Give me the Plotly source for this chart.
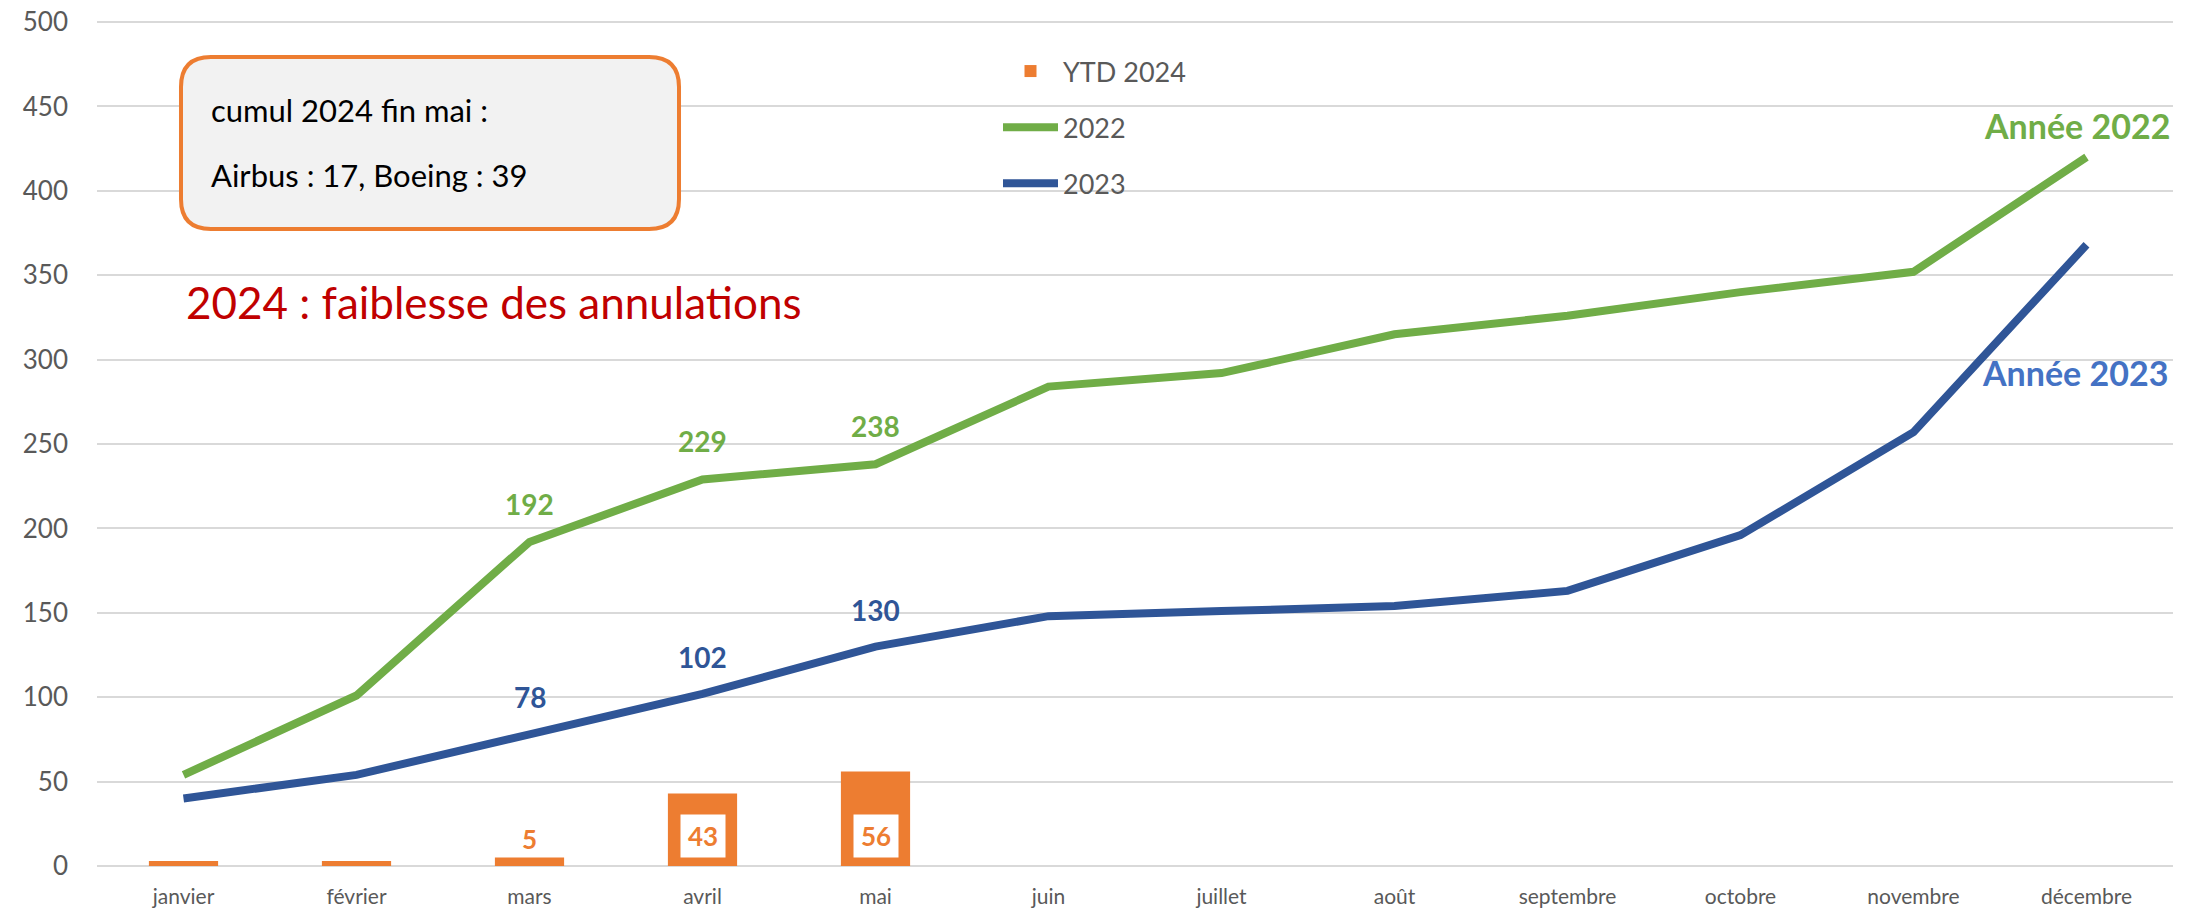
import plotly.graph_objects as go

# ---------------- data ----------------
months = ["janvier", "février", "mars", "avril", "mai", "juin", "juillet",
          "août", "septembre", "octobre", "novembre", "décembre"]
ytd_2024 = [3, 3, 5, 43, 56]
cum_2022 = [54, 101, 192, 229, 238, 284, 292, 315, 326, 340, 352, 420]
cum_2023 = [40, 54, 78, 102, 130, 148, 151, 154, 163, 196, 257, 368]
labelled_2022 = ["mars", "avril", "mai"]
labelled_2023 = ["mars", "avril", "mai"]
bar_label_above = ["mars"]
bar_label_inside = ["avril", "mai"]
y_ticks = list(range(0, 501, 50))

# ---------------- style ----------------
OFF = 8  # page body margin
W, H = 2192, 901
L, R, T, B = 89, 27, 13, 43
PW, PH = W - L - R, H - T - B
Y_MAX = 500.6
FONT = "Lato, 'Open Sans', 'DejaVu Sans', sans-serif"
ORANGE = "#ED7D31"
GREEN = "#70AD47"
BLUE = "#2F5597"
BLUE_LIGHT = "#4472C4"
GREY = "#595959"


def px_x(x):
    return (x - OFF - L) / PW


def px_y(y):
    return (T + PH - (y - OFF)) / PH


fig = go.Figure()
fig.add_trace(go.Bar(x=months[:len(ytd_2024)], y=ytd_2024, name="YTD 2024",
                     marker=dict(color=ORANGE, line=dict(width=0)), width=0.4,
                     legendgroup="a"))
fig.add_trace(go.Scatter(x=months, y=cum_2022, name="2022", mode="lines",
                         line=dict(color=GREEN, width=8), legendgroup="b"))
fig.add_trace(go.Scatter(x=months, y=cum_2023, name="2023", mode="lines",
                         line=dict(color=BLUE, width=8), legendgroup="c"))

ann = []
for m in labelled_2022:
    v = cum_2022[months.index(m)]
    ann.append(dict(x=m, y=v, text=f"<b>{v}</b>", showarrow=False, yshift=38,
                    yanchor="middle", font=dict(family=FONT, size=28, color=GREEN)))
for m in labelled_2023:
    v = cum_2023[months.index(m)]
    ann.append(dict(x=m, y=v, text=f"<b>{v}</b>", showarrow=False, yshift=37,
                    yanchor="middle", font=dict(family=FONT, size=28, color=BLUE)))
for m in bar_label_above:
    v = ytd_2024[months.index(m)]
    ann.append(dict(x=m, y=v, text=f"<b>{v}</b>", showarrow=False, yshift=19,
                    yanchor="middle", font=dict(family=FONT, size=26, color=ORANGE)))
for m in bar_label_inside:
    v = ytd_2024[months.index(m)]
    ann.append(dict(x=m, y=0, text=f"<b>{v}</b>", showarrow=False, yshift=8,
                    yanchor="bottom", bgcolor="white", borderpad=6, width=32, height=30,
                    font=dict(family=FONT, size=26, color=ORANGE)))

ann += [
    dict(xref="paper", yref="paper", x=px_x(2172), y=px_y(125), xanchor="right",
         yanchor="middle", showarrow=False, text="<b>Année 2022</b>",
         font=dict(family=FONT, size=34, color=GREEN)),
    dict(xref="paper", yref="paper", x=px_x(2170), y=px_y(372), xanchor="right",
         yanchor="middle", showarrow=False, text="<b>Année 2023</b>",
         font=dict(family=FONT, size=34, color=BLUE_LIGHT)),
    dict(xref="paper", yref="paper", x=px_x(184), y=px_y(302), xanchor="left",
         yanchor="middle", showarrow=False, text="2024 : faiblesse des annulations",
         font=dict(family=FONT, size=44, color="#C00000")),
    dict(xref="paper", yref="paper", x=px_x(209), y=px_y(110), xanchor="left",
         yanchor="middle", showarrow=False, text="cumul 2024 fin mai :",
         font=dict(family=FONT, size=31, color="#000000")),
    dict(xref="paper", yref="paper", x=px_x(209), y=px_y(175), xanchor="left",
         yanchor="middle", showarrow=False, text="Airbus : 17, Boeing : 39",
         font=dict(family=FONT, size=31, color="#000000")),
]

# rounded box (screen pixel corners)
bx0, bx1, by0, by1, r = 181, 679, 57, 229, 30


def P(x, y):
    return f"{px_x(x):.5f},{px_y(y):.5f}"


path = (f"M {P(bx0 + r, by0)} L {P(bx1 - r, by0)} Q {P(bx1, by0)} {P(bx1, by0 + r)} "
        f"L {P(bx1, by1 - r)} Q {P(bx1, by1)} {P(bx1 - r, by1)} "
        f"L {P(bx0 + r, by1)} Q {P(bx0, by1)} {P(bx0, by1 - r)} "
        f"L {P(bx0, by0 + r)} Q {P(bx0, by0)} {P(bx0 + r, by0)} Z")

fig.update_layout(
    width=W, height=H,
    margin=dict(l=L, r=R, t=T, b=B, autoexpand=False),
    paper_bgcolor="white", plot_bgcolor="white",
    font=dict(family=FONT, color=GREY),
    showlegend=True,
    legend=dict(x=px_x(998), y=px_y(47), xanchor="left", yanchor="top",
                bgcolor="rgba(0,0,0,0)", font=dict(family=FONT, size=27, color=GREY),
                itemwidth=55, traceorder="grouped", tracegroupgap=18),
    shapes=[dict(type="path", xref="paper", yref="paper", path=path,
                 fillcolor="#F2F2F2", line=dict(color=ORANGE, width=4), layer="above")],
    annotations=ann,
    bargap=0.6,
)
fig.update_xaxes(type="category", categoryorder="array", categoryarray=months,
                 range=[-0.5, 11.5], showgrid=False, showline=False, zeroline=False,
                 ticks="", tickfont=dict(family=FONT, size=21, color=GREY),
                 ticklabelstandoff=16, fixedrange=True)
fig.update_yaxes(range=[0, Y_MAX], tickvals=y_ticks, showgrid=True, gridcolor="#D9D9D9",
                 gridwidth=2, zeroline=True, zerolinecolor="#D9D9D9", zerolinewidth=2,
                 showline=False, ticks="", tickfont=dict(family=FONT, size=26, color=GREY),
                 ticklabelstandoff=28, ticklabeloverflow="allow", fixedrange=True)

fig.write_html("out.html")
